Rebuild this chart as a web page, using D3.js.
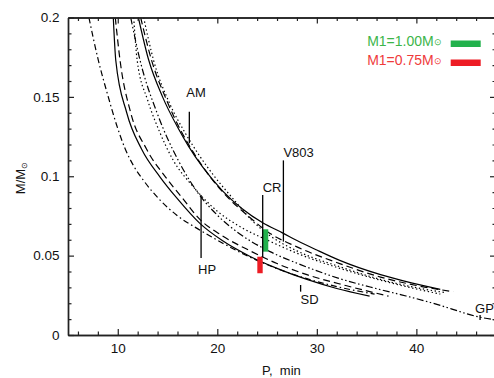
<!DOCTYPE html>
<html>
<head>
<meta charset="utf-8">
<script src="https://cdn.jsdelivr.net/npm/d3@7"></script>
<style>
  html, body { margin: 0; padding: 0; background: #fff; }
  svg { display: block; }
  text { font-family: "Liberation Sans", Arial, sans-serif; fill: #111; }
</style>
</head>
<body>
<svg id="chart" width="494" height="378"></svg>
<script>
// ---------- data (P in min, M in solar masses) ----------
const upperSolid = [[12.07,0.200],[13.07,0.174],[14.5,0.150],[16.0,0.131],[17.1,0.119],[18.5,0.106],[20.5,0.091],[22.5,0.0795],[24.6,0.0705],[26.5,0.0645],[28,0.0595],[30,0.0535],[32.3,0.0470],[36.4,0.0380],[39.5,0.0328],[42.4,0.0287]];
const upperDashed = [[12.3,0.200],[13.4,0.173],[14.9,0.148],[16.4,0.128],[17.6,0.115],[19,0.102],[21,0.087],[23,0.0755],[25.3,0.0640],[28,0.0555],[32.3,0.0450],[36.4,0.0365],[40,0.0312],[43.7,0.0273]];
const upperDottedR = [[12.6,0.200],[13.6,0.173],[15.2,0.146],[16.8,0.127],[18.2,0.113],[19.7,0.100],[21.7,0.085],[23.5,0.072],[25.3,0.0625],[28,0.0530],[32.3,0.0430],[36.4,0.0350],[40,0.0298],[42.8,0.0268]];
const upperDottedL = [[11.6,0.200],[11.95,0.173],[13.0,0.148],[14.2,0.128],[15.58,0.110],[17.5,0.094],[20,0.078],[22.5,0.0675],[25.3,0.0590],[28,0.0515],[32.3,0.0420],[36.4,0.0345],[40,0.0290],[42.4,0.0258]];
const upperDashDotGP = [[11.3,0.200],[12.24,0.173],[14,0.139],[16.08,0.110],[18,0.090],[20,0.0755],[22.3,0.0635],[25.3,0.0525],[28.3,0.0445],[32.3,0.0355],[36,0.0292],[38.5,0.0253],[41.4,0.0205],[43.5,0.0165],[45.1,0.0133],[46.4,0.0112],[48,0.0095]];
const lowerSolid = [[9.55,0.200],[9.8,0.173],[10.9,0.140],[12.4,0.117],[14.25,0.0995],[15.9,0.0865],[18.3,0.0700],[20.5,0.0595],[23.3,0.0495],[26,0.0420],[29,0.0350],[32,0.0293],[35.3,0.0245]];
const lowerDashed = [[9.75,0.200],[10.23,0.173],[11.3,0.140],[12.9,0.117],[14.8,0.0995],[16.4,0.0870],[18.3,0.0725],[20.5,0.0625],[23.3,0.0530],[26,0.0450],[29,0.0380],[33,0.0310],[37.2,0.0245]];
const lowerDashDot = [[7.1,0.200],[8.05,0.173],[9.0,0.151],[9.9,0.132],[10.73,0.1175],[11.6,0.1065],[12.57,0.0975],[14.25,0.0850],[15.9,0.0756],[18.27,0.0660],[20.5,0.0580],[23.3,0.0490],[26,0.0418],[29,0.0355],[32,0.0305],[35.8,0.0258]];

// system markers: name, period, mass range of marker
const markerNames = ["AM", "HP", "CR", "V803", "SD", "GP"];
const markerP     = [17.19, 18.37, 24.56, 26.64, 28.37, 46.4];
const markerMlo   = [0.1208, 0.0485, 0.049, 0.0588, 0.0273, 0.0095];
const markerMhi   = [0.1407, 0.0882, 0.0882, 0.110, 0.0315, 0.0126];

// mass bars for the two white dwarf masses
const barLabels = ["M1=1.00M", "M1=0.75M"];
const barP0 = [24.56, 24.02];
const barP1 = [25.12, 24.56];
const barMlo = [0.0525, 0.0389];
const barMhi = [0.0666, 0.0493];

const xTicksMajor = [10, 20, 30, 40];
const yTicksMajor = [0, 0.05, 0.1, 0.15, 0.2];
const yTickLabels = ["0", "0.05", "0.1", "0.15", "0.2"];

// ---------- layout ----------
const svg = d3.select("#chart");
const L = 68, R = 496, T = 17.5, B = 335;
const x = d3.scaleLinear().domain([5, 48]).range([L, R]);
const y = d3.scaleLinear().domain([0, 0.2]).range([B, T]);

svg.append("defs").append("clipPath").attr("id", "clip")
  .append("rect").attr("x", L).attr("y", T).attr("width", R - L).attr("height", B - T);

// ---------- curves ----------
const line = d3.line().x(d => x(d[0])).y(d => y(d[1])).curve(d3.curveMonotoneX);
const curves = [
  { data: upperSolid, dash: null },
  { data: upperDashed, dash: "7,4" },
  { data: upperDottedR, dash: "1.4,2.6" },
  { data: upperDottedL, dash: "1.4,2.6" },
  { data: upperDashDotGP, dash: "7,2.5,1.5,2.5,1.5,2.5" },
  { data: lowerSolid, dash: null },
  { data: lowerDashed, dash: "7,4" },
  { data: lowerDashDot, dash: "6,3,1.5,3" }
];
const gC = svg.append("g").attr("clip-path", "url(#clip)");
curves.forEach(c => {
  gC.append("path").attr("d", line(c.data))
    .attr("fill", "none").attr("stroke", "#000").attr("stroke-width", 1.2)
    .attr("stroke-dasharray", c.dash);
});

// ---------- bars ----------
const barColors = ["#22b14c", "#ed1c24"];
barP0.forEach((p, i) => {
  svg.append("rect")
    .attr("x", x(p)).attr("width", x(barP1[i]) - x(p))
    .attr("y", y(barMhi[i])).attr("height", y(barMlo[i]) - y(barMhi[i]))
    .attr("fill", barColors[i]);
});

// ---------- markers ----------
const labelOff = {
  AM:   { dx: -3, anchor: "top", dy: -15 },
  HP:   { dx: -3, anchor: "bottom", dy: 16 },
  CR:   { dx: 0, anchor: "top", dy: -3 },
  V803: { dx: 0, anchor: "top", dy: -3 },
  SD:   { dx: 0, anchor: "bottom", dy: 12 },
  GP:   { dx: -5, anchor: "top", dy: -2 }
};
markerNames.forEach((n, i) => {
  const px = x(markerP[i]);
  svg.append("line").attr("x1", px).attr("x2", px)
    .attr("y1", y(markerMlo[i])).attr("y2", y(markerMhi[i]))
    .attr("stroke", "#000").attr("stroke-width", 1.3);
  const o = labelOff[n];
  const ty = o.anchor === "top" ? y(markerMhi[i]) + o.dy : y(markerMlo[i]) + o.dy;
  svg.append("text").attr("x", px + o.dx).attr("y", ty)
    .attr("font-size", 13).text(n);
});

// ---------- axes ----------
function styleAxis(g) {
  g.selectAll("path.domain").attr("stroke", "#222").attr("stroke-width", 1.4);
  g.selectAll("line").attr("stroke", "#222").attr("stroke-width", 1.2);
  g.selectAll("text").attr("font-size", 13.5).attr("fill", "#111")
    .attr("font-family", "Liberation Sans, Arial, sans-serif");
}
const xMinor = d3.range(6, 49, 2).filter(v => !xTicksMajor.includes(v));
const yMinor = d3.range(1, 20).map(v => v / 100).filter(v => Math.round(v * 100) % 5 !== 0);

// bottom
svg.append("g").attr("transform", `translate(0,${B})`)
  .call(d3.axisBottom(x).tickValues(xTicksMajor).tickSizeInner(-6).tickSizeOuter(0).tickPadding(8).tickFormat(d3.format("d")))
  .call(styleAxis);
svg.append("g").attr("transform", `translate(0,${B})`)
  .call(d3.axisBottom(x).tickValues(xMinor).tickSizeInner(-3.5).tickSizeOuter(0).tickFormat(""))
  .call(styleAxis);
// top
svg.append("g").attr("transform", `translate(0,${T})`)
  .call(d3.axisTop(x).tickValues(xTicksMajor).tickSizeInner(-6).tickSizeOuter(0).tickFormat(""))
  .call(styleAxis);
svg.append("g").attr("transform", `translate(0,${T})`)
  .call(d3.axisTop(x).tickValues(xMinor).tickSizeInner(-3.5).tickSizeOuter(0).tickFormat(""))
  .call(styleAxis);
// left
svg.append("g").attr("transform", `translate(${L},0)`)
  .call(d3.axisLeft(y).tickValues(yTicksMajor).tickSizeInner(-6).tickSizeOuter(0).tickPadding(8.5)
    .tickFormat((d, i) => yTickLabels[i]))
  .call(styleAxis);
svg.append("g").attr("transform", `translate(${L},0)`)
  .call(d3.axisLeft(y).tickValues(yMinor).tickSizeInner(-3.5).tickSizeOuter(0).tickFormat(""))
  .call(styleAxis);
// right
svg.append("g").attr("transform", `translate(${R},0)`)
  .call(d3.axisRight(y).tickValues(yTicksMajor).tickSizeInner(-6).tickSizeOuter(0).tickFormat(""))
  .call(styleAxis);
svg.append("g").attr("transform", `translate(${R},0)`)
  .call(d3.axisRight(y).tickValues(yMinor).tickSizeInner(-3.5).tickSizeOuter(0).tickFormat(""))
  .call(styleAxis);

// axis titles
svg.append("text").attr("x", 262).attr("y", 375).attr("font-size", 13)
  .attr("xml:space", "preserve").text("P,  min");
const yt = svg.append("text").attr("transform", "translate(25,178) rotate(-90)")
  .attr("text-anchor", "middle").attr("font-size", 13);
yt.append("tspan").text("M/M");
yt.append("tspan").attr("font-size", 8).attr("dy", 2).text("⊙");

// ---------- legend ----------
const legendTextColors = ["#3cb54a", "#ef3b3b"];
barLabels.forEach((t, i) => {
  const by = 46 + i * 19;
  const tx = svg.append("text").attr("x", 441.7).attr("y", by).attr("text-anchor", "end")
    .attr("font-family", "DejaVu Sans, sans-serif").attr("font-size", 14)
    .style("fill", legendTextColors[i]);
  tx.append("tspan").style("fill", legendTextColors[i]).text(t);
  tx.append("tspan").attr("font-size", 9).attr("dy", -1).style("fill", legendTextColors[i]).text("⊙");
  svg.append("rect").attr("x", 450.7).attr("y", by - 5.5).attr("width", 30).attr("height", 6.5)
    .attr("fill", barColors[i]);
});
</script>
</body>
</html>
